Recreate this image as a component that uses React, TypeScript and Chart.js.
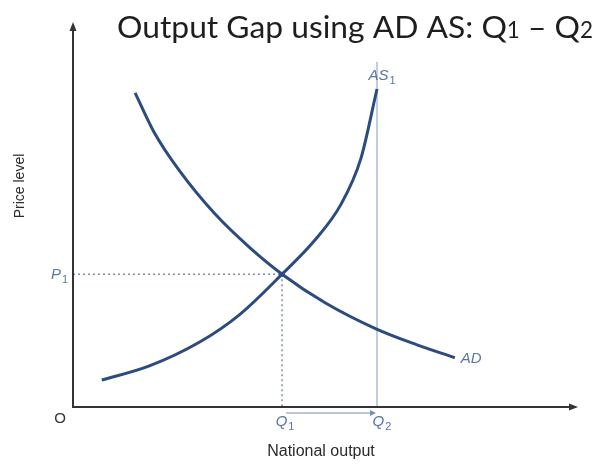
import React, { useEffect, useRef } from "react";
import { Chart, registerables } from "chart.js";

Chart.register(...registerables);

// Values (output and price level in 0–100 units)
const asOutput = [5.7, 15, 25, 33, 41.4, 48, 53, 57, 60.2];
const asPrice = [7.0, 10.6, 16.8, 24.0, 34.5, 43.5, 52.5, 64.5, 82.6];
const adOutput = [12.3, 16, 21, 28, 35, 41.4, 50, 60, 68, 75.6];
const adPrice = [81.6, 71.5, 61.5, 50.3, 41.4, 34.5, 27.0, 20.3, 16.2, 12.8];
const q1 = 41.4;
const q2 = 60.2;
const p1 = 34.5;
const q2LineTop = 89.6;
const axisMax = 100;

const titleMain = "Output Gap using AD AS: Q";
const titleSub1 = "1";
const titleDash = " – Q";
const titleSub2 = "2";
const originLabel = "O";
const priceLabel = ["P", "1"];
const q1Label = ["Q", "1"];
const q2Label = ["Q", "2"];
const asLabel = ["AS", "1"];
const adLabel = "AD";
const yAxisTitle = "Price level";
const xAxisTitle = "National output";

const zip = (xs: number[], ys: number[]) => xs.map((x, i) => ({ x, y: ys[i] }));

function drawSubLabel(
  ctx: CanvasRenderingContext2D,
  main: string,
  sub: string,
  x: number,
  y: number,
  size: number,
  color: string,
  align: "left" | "center" | "right"
) {
  ctx.save();
  ctx.fillStyle = color;
  ctx.textBaseline = "middle";
  ctx.textAlign = "left";
  const mf = `italic ${size}px "Liberation Sans", Arial, sans-serif`;
  const sf = `${Math.round(size * 0.7)}px "Liberation Sans", Arial, sans-serif`;
  ctx.font = mf;
  const mw = ctx.measureText(main).width;
  ctx.font = sf;
  const sw = ctx.measureText(sub).width;
  const total = mw + sw + 1;
  let sx = x;
  if (align === "center") sx = x - total / 2;
  if (align === "right") sx = x - total;
  ctx.font = mf;
  ctx.fillText(main, sx, y);
  ctx.font = sf;
  ctx.fillText(sub, sx + mw + 1, y + size * 0.3);
  ctx.restore();
}

const overlay = {
  id: "econOverlay",
  afterDraw(chart: any) {
    const ctx: CanvasRenderingContext2D = chart.ctx;
    const xs = chart.scales.x;
    const ys = chart.scales.y;
    const x0 = xs.getPixelForValue(0);
    const y0 = ys.getPixelForValue(0);
    const xEnd = xs.getPixelForValue(axisMax);
    const yEnd = ys.getPixelForValue(axisMax);

    ctx.save();
    // axes
    ctx.strokeStyle = "#333333";
    ctx.fillStyle = "#333333";
    ctx.lineWidth = 2;
    ctx.beginPath();
    ctx.moveTo(x0, y0);
    ctx.lineTo(x0, yEnd + 6);
    ctx.moveTo(x0 - 1, y0);
    ctx.lineTo(xEnd - 6, y0);
    ctx.stroke();
    ctx.beginPath();
    ctx.moveTo(x0, yEnd);
    ctx.lineTo(x0 - 3.5, yEnd + 9);
    ctx.lineTo(x0 + 3.5, yEnd + 9);
    ctx.closePath();
    ctx.fill();
    ctx.beginPath();
    ctx.moveTo(xEnd, y0);
    ctx.lineTo(xEnd - 9, y0 - 3.5);
    ctx.lineTo(xEnd - 9, y0 + 3.5);
    ctx.closePath();
    ctx.fill();

    // Q1 -> Q2 arrow
    const qa = xs.getPixelForValue(q1);
    const qb = xs.getPixelForValue(q2);
    const ay = y0 + 6;
    ctx.strokeStyle = "#7090c4";
    ctx.fillStyle = "#7090c4";
    ctx.lineWidth = 1.2;
    ctx.beginPath();
    ctx.moveTo(qa + 4, ay);
    ctx.lineTo(qb - 3, ay);
    ctx.stroke();
    ctx.beginPath();
    ctx.moveTo(qb - 1, ay);
    ctx.lineTo(qb - 7, ay - 3);
    ctx.lineTo(qb - 7, ay + 3);
    ctx.closePath();
    ctx.fill();

    // labels
    const lbl = "#5a76a6";
    ctx.fillStyle = "#333";
    ctx.font = `15px "Liberation Sans", Arial, sans-serif`;
    ctx.textAlign = "center";
    ctx.textBaseline = "middle";
    ctx.fillText(originLabel, x0 - 13, y0 + 12);

    drawSubLabel(ctx, priceLabel[0], priceLabel[1], x0 - 5, ys.getPixelForValue(p1) + 1, 15, lbl, "right");
    drawSubLabel(ctx, q1Label[0], q1Label[1], qa + 3, y0 + 15, 15, lbl, "center");
    drawSubLabel(ctx, q2Label[0], q2Label[1], qb + 5, y0 + 15, 15, lbl, "center");
    drawSubLabel(ctx, asLabel[0], asLabel[1], qb + 5, ys.getPixelForValue(q2LineTop) + 14, 15, lbl, "center");

    ctx.fillStyle = lbl;
    ctx.font = `italic 15px "Liberation Sans", Arial, sans-serif`;
    ctx.textAlign = "left";
    const adLast = adOutput.length - 1;
    ctx.fillText(adLabel, xs.getPixelForValue(adOutput[adLast]) + 6, ys.getPixelForValue(adPrice[adLast]) + 1);

    // axis titles
    ctx.fillStyle = "#2a2a2a";
    ctx.font = `14px "Liberation Sans", Arial, sans-serif`;
    ctx.textAlign = "center";
    ctx.save();
    ctx.translate(20, 186);
    ctx.rotate(-Math.PI / 2);
    ctx.fillText(yAxisTitle, 0, 0);
    ctx.restore();
    ctx.font = `16px "Liberation Sans", Arial, sans-serif`;
    ctx.fillText(xAxisTitle, 321, 452);

    // title
    const big = 34;
    const small = 24;
    const bf = `${big}px Lato, "Open Sans", sans-serif`;
    const sf = `${small}px Lato, "Open Sans", sans-serif`;
    ctx.font = bf;
    const w1 = ctx.measureText(titleMain).width;
    const w3 = ctx.measureText(titleDash).width;
    ctx.font = sf;
    const w2 = ctx.measureText(titleSub1).width;
    const w4 = ctx.measureText(titleSub2).width;
    const total = w1 + w2 + w3 + w4;
    const scale = 476 / total;
    ctx.save();
    ctx.translate(117, 38);
    ctx.scale(scale, scale);
    ctx.fillStyle = "#1e1e1e";
    ctx.textAlign = "left";
    ctx.textBaseline = "alphabetic";
    let cx = 0;
    ctx.font = bf;
    ctx.fillText(titleMain, cx, 0);
    cx += w1;
    ctx.font = sf;
    ctx.fillText(titleSub1, cx, 0);
    cx += w2;
    ctx.font = bf;
    ctx.fillText(titleDash, cx, 0);
    cx += w3;
    ctx.font = sf;
    ctx.fillText(titleSub2, cx, 0);
    ctx.restore();

    ctx.restore();
  },
};

export default function App() {
  const ref = useRef<HTMLCanvasElement | null>(null);
  useEffect(() => {
    if (!ref.current) return;
    const curve = "#2c4b7f";
    const chart = new Chart(ref.current, {
      type: "line",
      data: {
        datasets: [
          {
            data: zip(asOutput, asPrice),
            borderColor: curve,
            borderWidth: 3,
            pointRadius: 0,
            cubicInterpolationMode: "monotone",
            fill: false,
          },
          {
            data: zip(adOutput, adPrice),
            borderColor: curve,
            borderWidth: 3,
            pointRadius: 0,
            cubicInterpolationMode: "monotone",
            fill: false,
          },
          {
            data: [{ x: q1, y: p1 }],
            showLine: false,
            pointRadius: 2.5,
            pointBackgroundColor: "#1b2d4d",
            pointBorderWidth: 0,
          },
          {
            data: [
              { x: 0, y: p1 },
              { x: q1, y: p1 },
            ],
            borderColor: "#7d8db0",
            borderWidth: 1.5,
            borderDash: [2, 3],
            pointRadius: 0,
          },
          {
            data: [
              { x: q1, y: p1 },
              { x: q1, y: 0 },
            ],
            borderColor: "#7d8db0",
            borderWidth: 1.5,
            borderDash: [2, 3],
            pointRadius: 0,
          },
          {
            data: [
              { x: q2, y: 0 },
              { x: q2, y: q2LineTop },
            ],
            borderColor: "#a9bddb",
            borderWidth: 1.5,
            pointRadius: 0,
          },
        ],
      },
      options: {
        animation: false,
        responsive: false,
        layout: { padding: { left: 73, right: 19, top: 22, bottom: 61 } },
        plugins: { legend: { display: false }, tooltip: { enabled: false }, title: { display: false } },
        scales: {
          x: { type: "linear", min: 0, max: axisMax, display: false },
          y: { type: "linear", min: 0, max: axisMax, display: false },
        },
      },
      plugins: [overlay],
    } as any);
    return () => chart.destroy();
  }, []);
  return (
    <div style={{ position: "absolute", left: 0, top: 0, width: 597, height: 468, background: "#fff" }}>
      <canvas ref={ref} width={597} height={468} style={{ width: 597, height: 468, display: "block" }} />
    </div>
  );
}
